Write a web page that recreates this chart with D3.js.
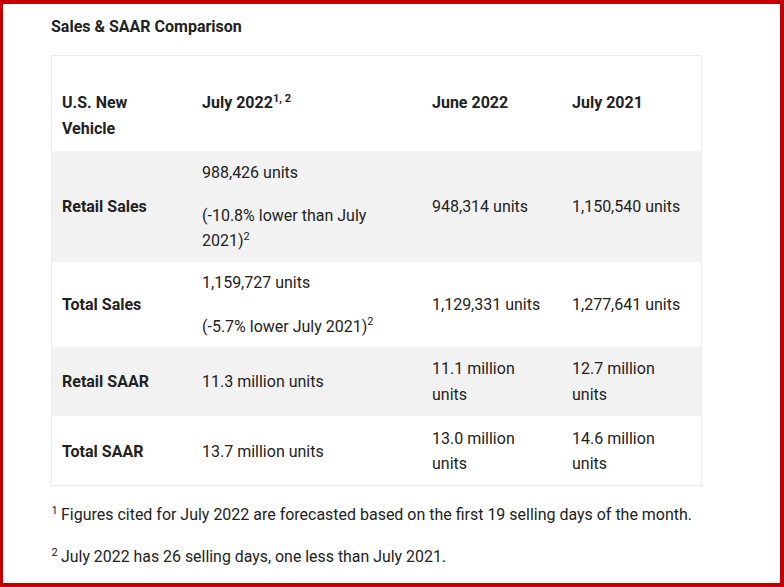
<!DOCTYPE html>
<html>
<head>
<meta charset="utf-8">
<script src="https://cdn.jsdelivr.net/npm/d3@7"></script>
<style>
  html, body { margin: 0; padding: 0; background: #fff; }
  svg { display: block; }
  text { font-family: Roboto, "Noto Sans", sans-serif; fill: #222; }
</style>
</head>
<body>
<div id="chart"></div>
<script>
// ---------- data ----------
const title = "Sales & SAAR Comparison";
const headerLabels = ["U.S. New Vehicle", "July 2022^1, 2", "June 2022", "July 2021"];
const headerLines = [["U.S. New", "Vehicle"], ["July 2022^1, 2"], ["June 2022"], ["July 2021"]];
const rowLabels = ["Retail Sales", "Total Sales", "Retail SAAR", "Total SAAR"];
// each cell: list of paragraphs, each paragraph a list of wrapped lines ("^" marks a superscript)
const july2022Cells = [
  [["988,426 units"], ["(-10.8% lower than July", "2021)^2"]],
  [["1,159,727 units"], ["(-5.7% lower July 2021)^2"]],
  [["11.3 million units"]],
  [["13.7 million units"]]
];
const june2022Cells = [
  [["948,314 units"]],
  [["1,129,331 units"]],
  [["11.1 million", "units"]],
  [["13.0 million", "units"]]
];
const july2021Cells = [
  [["1,150,540 units"]],
  [["1,277,641 units"]],
  [["12.7 million", "units"]],
  [["14.6 million", "units"]]
];
const footnoteMarks = ["1", "2"];
const footnoteTexts = [
  "Figures cited for July 2022 are forecasted based on the first 19 selling days of the month.",
  "July 2022 has 26 selling days, one less than July 2021."
];

// ---------- layout ----------
const W = 784, H = 587;
const colEdges = [51, 191, 421, 561, 702];
const rowEdges = [55, 151, 262, 347, 416, 486];
const padX = 11;
const lineH = 25.6, paraGap = 17.6, baseOff = 18.3;
const headerFirstBaseline = 53;
const footBaselines = [520, 562];
const footWidths = [631, 385];

const xCol = d3.scaleOrdinal().domain(d3.range(colEdges.length)).range(colEdges);
const yRow = d3.scaleOrdinal().domain(d3.range(rowEdges.length)).range(rowEdges);

const svg = d3.select("#chart").append("svg").attr("width", W).attr("height", H);

// frame
svg.append("rect").attr("x", 0).attr("y", 0).attr("width", W).attr("height", H).attr("fill", "#c00000");
svg.append("rect").attr("x", 3).attr("y", 4).attr("width", 777).attr("height", 579).attr("fill", "#fff");

// title
svg.append("text").attr("x", 51).attr("y", 31.5)
  .attr("font-size", 16).attr("font-weight", 700).attr("fill", "#111").text(title);

// row backgrounds (striped)
const nRows = rowEdges.length - 1;
svg.selectAll("rect.row").data(d3.range(nRows)).join("rect")
  .attr("class", "row")
  .attr("x", xCol(0)).attr("width", xCol(4) - xCol(0))
  .attr("y", i => yRow(i)).attr("height", i => yRow(i + 1) - yRow(i))
  .attr("fill", i => (i % 2 === 1 ? "#f2f2f2" : "#fff"));

// outer border
svg.append("rect")
  .attr("x", xCol(0) + 0.5).attr("y", yRow(0) + 0.5)
  .attr("width", xCol(4) - xCol(0) - 1).attr("height", yRow(5) - yRow(0) - 1)
  .attr("fill", "none").attr("stroke", "#ececec").attr("stroke-width", 1);

function writeLine(textSel, line, supSize, supShift) {
  const parts = line.split("^");
  textSel.append("tspan").text(parts[0]);
  if (parts.length > 1) {
    textSel.append("tspan").attr("dy", -supShift).attr("font-size", supSize).text(parts[1]);
  }
}

// header
headerLines.forEach((lines, c) => {
  lines.forEach((ln, k) => {
    const t = svg.append("text")
      .attr("x", xCol(c) + padX)
      .attr("y", yRow(0) + headerFirstBaseline + k * lineH)
      .attr("font-size", 16).attr("font-weight", 700).attr("fill", "#111");
    writeLine(t, ln, 11, 6.5);
  });
});

// body cells
const bodyCols = [rowLabels.map(d => [[d]]), july2022Cells, june2022Cells, july2021Cells];
bodyCols.forEach((cells, c) => {
  cells.forEach((paras, r) => {
    const top = yRow(r + 1), bot = yRow(r + 2);
    const nLines = d3.sum(paras, p => p.length);
    const hContent = nLines * lineH + (paras.length - 1) * paraGap;
    let y = (top + bot) / 2 - hContent / 2;
    paras.forEach((p, pi) => {
      if (pi > 0) y += paraGap;
      p.forEach(ln => {
        const t = svg.append("text")
          .attr("x", xCol(c) + padX).attr("y", y + baseOff)
          .attr("font-size", 16)
          .attr("font-weight", c === 0 ? 700 : 400)
          .attr("fill", c === 0 ? "#111" : "#222");
        writeLine(t, ln, 11, 6.5);
        y += lineH;
      });
    });
  });
});

// footnotes
footnoteTexts.forEach((txt, i) => {
  svg.append("text").attr("x", 51.5).attr("y", footBaselines[i] - 6.5)
    .attr("font-size", 11).text(footnoteMarks[i]);
  svg.append("text").attr("x", 61).attr("y", footBaselines[i])
    .attr("font-size", 16)
    .attr("textLength", footWidths[i]).attr("lengthAdjust", "spacingAndGlyphs")
    .text(txt);
});
</script>
</body>
</html>
